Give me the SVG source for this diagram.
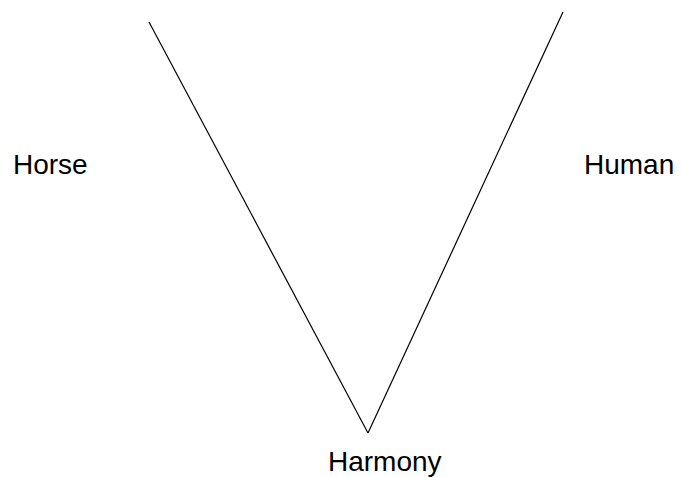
<svg xmlns="http://www.w3.org/2000/svg" width="681" height="477" viewBox="0 0 681 477">
<style>
.lbl{font-family:"Liberation Sans",Arial,Helvetica,sans-serif;font-size:28px;fill:#000}
.edge{stroke:#000;stroke-width:1.2;fill:none}
</style>
<rect width="681" height="477" fill="#fff"/>
<g id="connectors">
<line class="edge" x1="149" y1="22" x2="368" y2="433"/>
<line class="edge" x1="563" y1="12" x2="368" y2="433"/>
</g>
<g id="horse"><text class="lbl" x="13" y="174">Horse</text></g>
<g id="human"><text class="lbl" x="584" y="174">Human</text></g>
<g id="harmony"><text class="lbl" x="328" y="471">Harmony</text></g>
</svg>
